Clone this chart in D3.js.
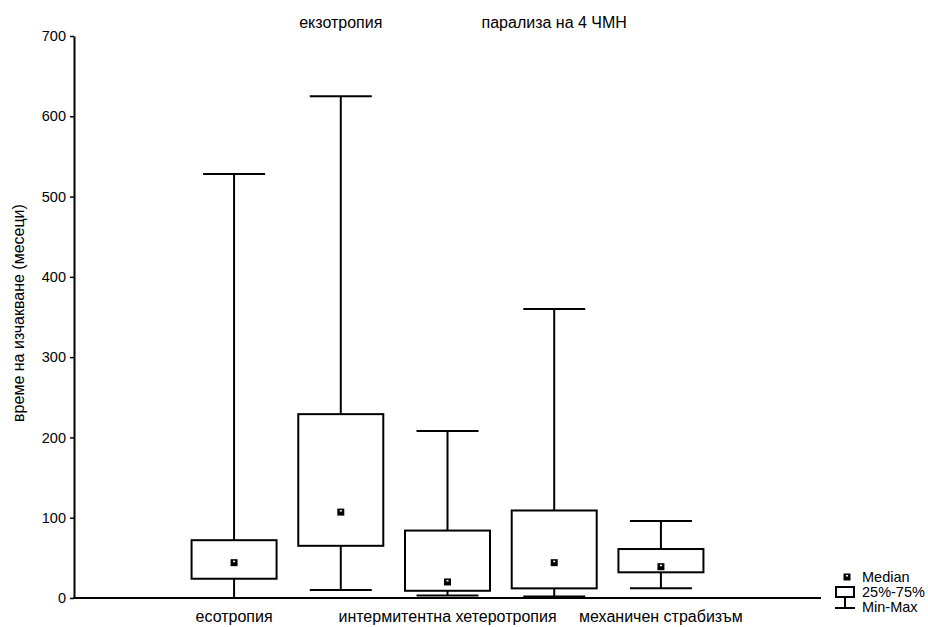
<!DOCTYPE html>
<html>
<head>
<meta charset="utf-8">
<script src="https://cdn.jsdelivr.net/npm/d3@7"></script>
<style>
  html, body { margin: 0; padding: 0; background: #fff; }
  svg { display: block; font-family: "Liberation Sans", Arial, sans-serif; }
</style>
</head>
<body>
<div id="chart"></div>
<script>
// Waiting time (months) by strabismus type
const categories = ["есотропия", "екзотропия", "интермитентна хетеротропия", "парализа на 4 ЧМН", "механичен страбизъм"];
const minValues    = [0,   10,  3,   2,   12];
const q1Values     = [24,  65,  9,   12,  32];
const medianValues = [44,  107, 20,  44,  39];
const q3Values     = [72,  229, 84,  109, 61];
const maxValues    = [528, 625, 208, 360, 96];
const yTicks = [0, 100, 200, 300, 400, 500, 600, 700];
const yTitle = "време на изчакване (месеци)";
const legendLabels = ["Median", "25%-75%", "Min-Max"];

const W = 928, H = 627;
const margin = { left: 74, right: 107, top: 36, bottom: 29 };
const labelSize = 16, tickSize = 14.5;

const svg = d3.select("#chart").append("svg")
  .attr("width", W).attr("height", H);

const x = d3.scalePoint()
  .domain(categories)
  .range([margin.left, W - margin.right])
  .padding(1.5);

const y = d3.scaleLinear()
  .domain([0, 700])
  .range([H - margin.bottom, margin.top]);

const boxW = 85, capW = 62;

// axes
const yAxis = svg.append("g")
  .attr("transform", `translate(${margin.left},0)`)
  .call(d3.axisLeft(y).tickValues(yTicks).tickSize(4).tickPadding(4).tickSizeOuter(0));
yAxis.select(".domain").attr("stroke-width", 2);
yAxis.selectAll(".tick line").attr("stroke-width", 1.5);
yAxis.selectAll(".tick text").attr("font-size", tickSize).attr("fill", "#000")
  .attr("font-family", "Liberation Sans, Arial, sans-serif");

svg.append("line")
  .attr("x1", margin.left - 1).attr("x2", W - margin.right)
  .attr("y1", y(0)).attr("y2", y(0))
  .attr("stroke", "#000").attr("stroke-width", 2);

// category labels alternate between bottom and top
svg.append("g").selectAll("text")
  .data(categories)
  .join("text")
  .attr("x", d => x(d))
  .attr("y", (d, i) => i % 2 === 0 ? H - 5.5 : 27.5)
  .attr("text-anchor", "middle")
  .attr("font-size", labelSize)
  .text(d => d);

svg.append("text")
  .attr("transform", `translate(23.5,313) rotate(-90)`)
  .attr("text-anchor", "middle")
  .attr("font-size", labelSize)
  .text(yTitle);

// boxes
const rows = categories.map((c, i) => ({
  c, min: minValues[i], q1: q1Values[i], med: medianValues[i], q3: q3Values[i], max: maxValues[i]
}));

const g = svg.append("g")
  .attr("stroke", "#000").attr("stroke-width", 2).attr("fill", "none");

const b = g.selectAll("g.box").data(rows).join("g").attr("class", "box");

b.append("line")
  .attr("x1", d => x(d.c)).attr("x2", d => x(d.c))
  .attr("y1", d => y(d.max)).attr("y2", d => y(d.q3));
b.append("line")
  .attr("x1", d => x(d.c)).attr("x2", d => x(d.c))
  .attr("y1", d => y(d.q1)).attr("y2", d => y(d.min));
b.append("line")
  .attr("x1", d => x(d.c) - capW / 2).attr("x2", d => x(d.c) + capW / 2)
  .attr("y1", d => y(d.max)).attr("y2", d => y(d.max));
b.append("line")
  .attr("x1", d => x(d.c) - capW / 2).attr("x2", d => x(d.c) + capW / 2)
  .attr("y1", d => y(d.min)).attr("y2", d => y(d.min));
b.append("rect")
  .attr("x", d => x(d.c) - boxW / 2).attr("width", boxW)
  .attr("y", d => y(d.q3)).attr("height", d => y(d.q1) - y(d.q3))
  .attr("fill", "#fff");

function medianMark(sel, cx, cy) {
  sel.append("rect")
    .attr("x", cx - 3.5).attr("y", cy - 3.5).attr("width", 7).attr("height", 7)
    .attr("fill", "#000").attr("stroke", "none");
  sel.append("rect")
    .attr("x", cx - 1).attr("y", cy - 2).attr("width", 2).attr("height", 1.5)
    .attr("fill", "#fff").attr("stroke", "none");
}
rows.forEach(d => medianMark(svg, x(d.c), y(d.med)));

// legend
const lg = svg.append("g");
medianMark(lg, 847, 577);
lg.append("rect").attr("x", 836).attr("y", 587).attr("width", 18).attr("height", 10)
  .attr("fill", "#fff").attr("stroke", "#000").attr("stroke-width", 2);
lg.append("line").attr("x1", 845).attr("x2", 845).attr("y1", 597).attr("y2", 608)
  .attr("stroke", "#000").attr("stroke-width", 2);
lg.append("line").attr("x1", 835).attr("x2", 855).attr("y1", 608).attr("y2", 608)
  .attr("stroke", "#000").attr("stroke-width", 2);
lg.selectAll("text.lt").data(legendLabels).join("text")
  .attr("class", "lt")
  .attr("x", 862).attr("y", (d, i) => 581.5 + i * 15)
  .attr("font-size", tickSize)
  .text(d => d);
</script>
</body>
</html>
